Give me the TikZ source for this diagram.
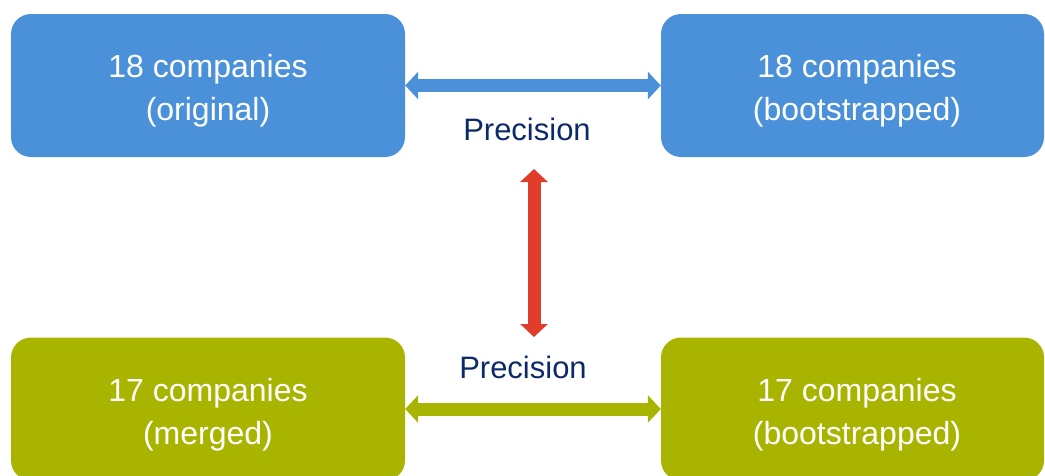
\documentclass[tikz,border=0pt]{standalone}
\usepackage{fontspec}
\setmainfont{Liberation Sans}
\usetikzlibrary{arrows.meta}
\definecolor{boxblue}{RGB}{74,145,218}
\definecolor{boxgreen}{RGB}{169,180,0}
\definecolor{arrred}{RGB}{224,61,42}
\definecolor{navy}{RGB}{12,42,105}
\tikzset{
  card/.style={rounded corners=20pt, minimum height=143pt, inner sep=0pt},
  cardtext/.style={text=white, align=center, font=\fontsize{32}{43}\selectfont, inner sep=0pt},
  bluecard/.style={card, fill=boxblue, minimum width=394pt},
  bluecardR/.style={card, fill=boxblue, minimum width=383pt},
  greencard/.style={card, fill=boxgreen, minimum width=394pt},
  greencardR/.style={card, fill=boxgreen, minimum width=383pt},
  fatarrow/.style={line width=13pt, {Triangle[length=13pt,width=27pt]}-{Triangle[length=13pt,width=27pt]}},
  label/.style={text=navy, font=\fontsize{31}{36}\selectfont, inner sep=0pt}
}
\begin{document}
\begin{tikzpicture}[x=1pt,y=-1pt]
\clip (0,0) rectangle (1045,475);
\useasboundingbox (0,0) rectangle (1045,475);
\node[bluecard] (tl) at (208,85.5) {};
\node[bluecardR] (tr) at (852.5,85.5) {};
\node[greencard] (bl) at (208,409) {};
\node[greencardR] (br) at (852.5,409) {};
\node[cardtext] (tlt) at (208,91) {18 companies\\(original)};
\node[cardtext] (trt) at (857,91) {18 companies\\(bootstrapped)};
\node[cardtext] (blt) at (208,415) {17 companies\\(merged)};
\node[cardtext] (brt) at (857,415) {17 companies\\(bootstrapped)};
\node[label] (pt) at (527,129) {Precision};
\node[label] (pb) at (523,367) {Precision};
\coordinate (rt) at (534,169);
\coordinate (rb) at (534,337);
\draw[fatarrow, draw=boxblue] (tl.east) -- (tr.west);
\draw[fatarrow, draw=boxgreen] (bl.east) -- (br.west);
\draw[fatarrow, draw=arrred] (rt) -- (rb);
\end{tikzpicture}
\end{document}
